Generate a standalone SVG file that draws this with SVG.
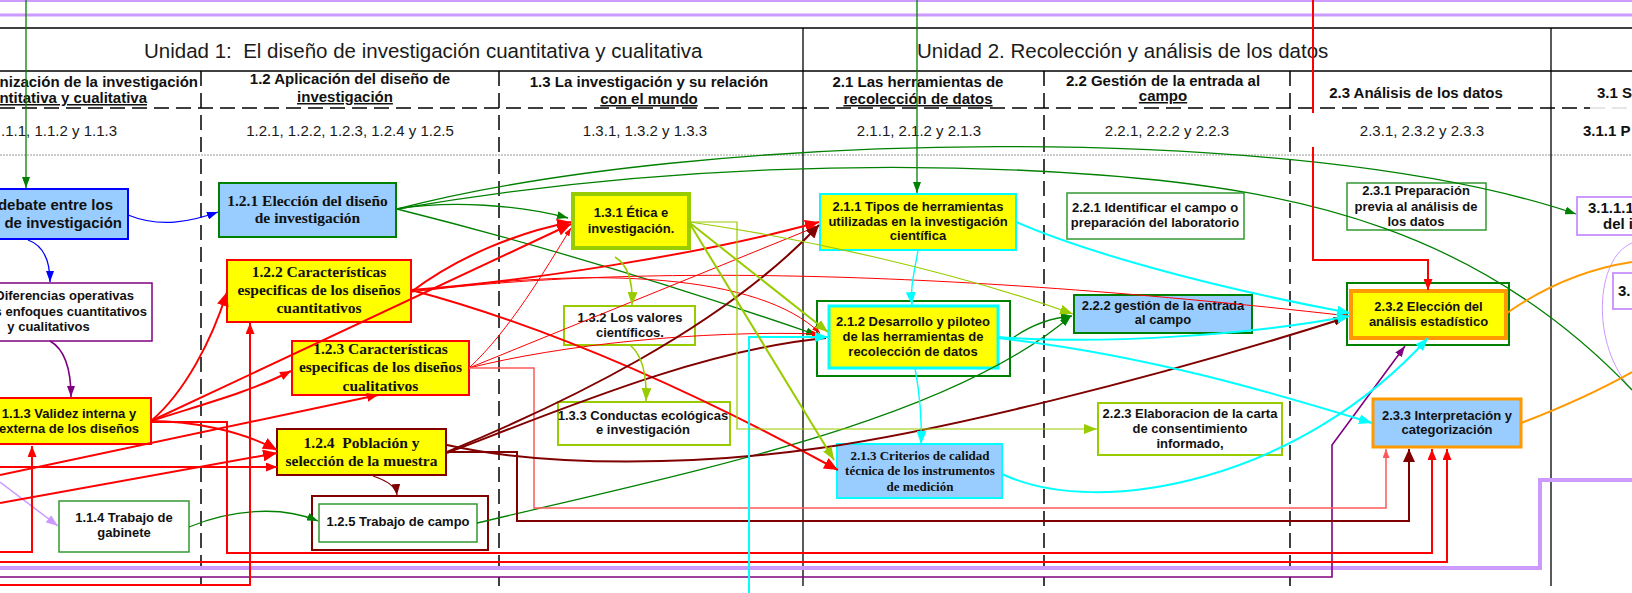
<svg xmlns="http://www.w3.org/2000/svg" width="1632" height="593" viewBox="0 0 1632 593">
<defs>
<style>
text{font-family:"Liberation Sans",Arial,Helvetica,sans-serif;fill:#111}
.unit{font-size:20.5px;fill:#1a1a1a;white-space:pre}
.sec{font-size:15px;font-weight:bold;text-anchor:middle}
.sub{font-size:15px;fill:#1a1a1a;text-anchor:middle}
.n{font-size:13px;font-weight:bold;text-anchor:middle}
.nb{font-size:15px;font-weight:bold}
.t{font-family:"Liberation Serif","Times New Roman",serif;font-weight:bold;font-size:15.5px;text-anchor:middle}
.t13{font-family:"Liberation Serif","Times New Roman",serif;font-weight:bold;font-size:13px;text-anchor:middle}
.end{text-anchor:end}
.start{text-anchor:start}
.ul{text-decoration:underline}
.grid{stroke:#000;stroke-width:1.3;fill:none}
.dash{stroke:#000;stroke-width:1.5;stroke-dasharray:15 7;fill:none}
#connectors path{fill:none}
.r{stroke:#f00;stroke-width:2}
.r1{stroke:#f00;stroke-width:1}
.pk{stroke:#ff5a5a;stroke-width:1.5}
.d{stroke:#800000;stroke-width:2}
.g{stroke:#008000;stroke-width:1.3}
.b{stroke:#00f;stroke-width:1.3}
.pu{stroke:#800080;stroke-width:1.6}
.lv{stroke:#cc99ff;stroke-width:1.5}
.lvw{stroke:#cc99ff;stroke-width:4}
.cy{stroke:#00ffff;stroke-width:2}
.cy1{stroke:#00ffff;stroke-width:1.4}
.yg{stroke:#99cc00;stroke-width:2}
.yg1{stroke:#99cc00;stroke-width:1.2}
.or{stroke:#ff9900;stroke-width:2}
</style>
<marker id="aR" viewBox="0 0 10 10" refX="10" refY="5" markerWidth="11" markerHeight="9" markerUnits="userSpaceOnUse" orient="auto" preserveAspectRatio="none"><path d="M0,0L10,5L0,10z" fill="#f00"/></marker>
<marker id="aRL" viewBox="0 0 10 10" refX="10" refY="5" markerWidth="14" markerHeight="12" markerUnits="userSpaceOnUse" orient="auto" preserveAspectRatio="none"><path d="M0,0L10,5L0,10z" fill="#f00"/></marker>
<marker id="aRS" viewBox="0 0 10 10" refX="10" refY="5" markerWidth="8" markerHeight="6" markerUnits="userSpaceOnUse" orient="auto" preserveAspectRatio="none"><path d="M0,0L10,5L0,10z" fill="#f00"/></marker>
<marker id="aP" viewBox="0 0 10 10" refX="10" refY="5" markerWidth="9" markerHeight="7" markerUnits="userSpaceOnUse" orient="auto" preserveAspectRatio="none"><path d="M0,0L10,5L0,10z" fill="#ff5a5a"/></marker>
<marker id="aD" viewBox="0 0 10 10" refX="10" refY="5" markerWidth="11" markerHeight="9" markerUnits="userSpaceOnUse" orient="auto" preserveAspectRatio="none"><path d="M0,0L10,5L0,10z" fill="#800000"/></marker>
<marker id="aDL" viewBox="0 0 10 10" refX="10" refY="5" markerWidth="13" markerHeight="12" markerUnits="userSpaceOnUse" orient="auto" preserveAspectRatio="none"><path d="M0,0L10,5L0,10z" fill="#800000"/></marker>
<marker id="aG" viewBox="0 0 10 10" refX="10" refY="5" markerWidth="11" markerHeight="8" markerUnits="userSpaceOnUse" orient="auto" preserveAspectRatio="none"><path d="M0,0L10,5L0,10z" fill="#008000"/></marker>
<marker id="aB" viewBox="0 0 10 10" refX="10" refY="5" markerWidth="11" markerHeight="8" markerUnits="userSpaceOnUse" orient="auto" preserveAspectRatio="none"><path d="M0,0L10,5L0,10z" fill="#00f"/></marker>
<marker id="aPu" viewBox="0 0 10 10" refX="10" refY="5" markerWidth="11" markerHeight="8" markerUnits="userSpaceOnUse" orient="auto" preserveAspectRatio="none"><path d="M0,0L10,5L0,10z" fill="#800080"/></marker>
<marker id="aL" viewBox="0 0 10 10" refX="10" refY="5" markerWidth="12" markerHeight="9" markerUnits="userSpaceOnUse" orient="auto" preserveAspectRatio="none"><path d="M0,0L10,5L0,10z" fill="#cc99ff"/></marker>
<marker id="aC" viewBox="0 0 10 10" refX="10" refY="5" markerWidth="13" markerHeight="10" markerUnits="userSpaceOnUse" orient="auto" preserveAspectRatio="none"><path d="M0,0L10,5L0,10z" fill="#00ffff"/></marker>
<marker id="aY" viewBox="0 0 10 10" refX="10" refY="5" markerWidth="13" markerHeight="10" markerUnits="userSpaceOnUse" orient="auto" preserveAspectRatio="none"><path d="M0,0L10,5L0,10z" fill="#99cc00"/></marker>
</defs>

<rect width="1632" height="593" fill="#fff"/>

<!-- table frame -->
<g id="table">
  <line class="grid" x1="0" y1="28" x2="1632" y2="28"/>
  <line class="grid" x1="0" y1="71" x2="1632" y2="71"/>
  <line class="dash" x1="0" y1="108" x2="1590" y2="108"/>
  <line x1="1590" y1="108" x2="1632" y2="108" stroke="#ccc" stroke-width="1" stroke-dasharray="15 7"/>
  <line x1="0" y1="155" x2="1632" y2="155" stroke="#999" stroke-width="1.2" stroke-dasharray="2 1"/>
  <line class="grid" x1="803" y1="28" x2="803" y2="586"/>
  <line class="grid" x1="1551" y1="28" x2="1551" y2="586"/>
  <line class="dash" x1="201" y1="71" x2="201" y2="586"/>
  <line class="dash" x1="499" y1="71" x2="499" y2="586"/>
  <line class="dash" x1="1044" y1="71" x2="1044" y2="586"/>
  <line class="dash" x1="1290" y1="71" x2="1290" y2="586"/>

  <text class="unit" x="144" y="58">Unidad 1:  El diseño de investigación cuantitativa y cualitativa</text>
  <text class="unit" x="917" y="58">Unidad 2. Recolección y análisis de los datos</text>

  <text class="sec end" x="198" y="87">nización de la investigación</text>
  <text class="sec end ul" x="147" y="103">ntitativa y cualitativa</text>
  <text class="sec" x="350" y="84">1.2 Aplicación del diseño de</text>
  <text class="sec ul" x="345" y="102">investigación</text>
  <text class="sec" x="649" y="87">1.3 La investigación y su relación</text>
  <text class="sec ul" x="649" y="104">con el mundo</text>
  <text class="sec" x="918" y="87">2.1 Las herramientas de</text>
  <text class="sec ul" x="918" y="104">recolección de datos</text>
  <text class="sec" x="1163" y="86">2.2 Gestión de la entrada al</text>
  <text class="sec ul" x="1163" y="101">campo</text>
  <text class="sec" x="1416" y="98">2.3 Análisis de los datos</text>
  <text class="sec start" x="1597" y="98">3.1 S</text>

  <text class="sub end" x="117" y="136">.1.1, 1.1.2 y 1.1.3</text>
  <text class="sub" x="350" y="136">1.2.1, 1.2.2, 1.2.3, 1.2.4 y 1.2.5</text>
  <text class="sub" x="645" y="136">1.3.1, 1.3.2 y 1.3.3</text>
  <text class="sub" x="919" y="136">2.1.1, 2.1.2 y 2.1.3</text>
  <text class="sub" x="1167" y="136">2.2.1, 2.2.2 y 2.2.3</text>
  <text class="sub" x="1422" y="136">2.3.1, 2.3.2 y 2.3.3</text>
  <text class="nb" x="1583" y="136">3.1.1 P</text>
</g>

<!-- Unidad 1 -->
<g id="n112">
  <rect x="-10" y="189" width="138" height="50" fill="#99ccff" stroke="#0000ff" stroke-width="2"/>
  <text class="nb end" x="113" y="210">debate entre los</text>
  <text class="nb end" x="122" y="228">de investigación</text>
</g>
<g id="n111">
  <rect x="-10" y="283" width="162" height="58" fill="#fff" stroke="#800080" stroke-width="1.5"/>
  <text class="n end" x="134" y="300">Diferencias operativas</text>
  <text class="n end" x="147" y="316">s enfoques cuantitativos</text>
  <text class="n" x="48.5" y="331">y cualitativos</text>
</g>
<g id="n113">
  <rect x="-10" y="398" width="161" height="46" fill="#ffff00" stroke="#ff0000" stroke-width="2"/>
  <text class="n" x="69" y="418">1.1.3 Validez interna y</text>
  <text class="n" x="69" y="433">externa de los diseños</text>
</g>
<g id="n114">
  <rect x="59" y="501" width="130" height="51" fill="#fff" stroke="#339933" stroke-width="1.5"/>
  <text class="n" x="124" y="522">1.1.4 Trabajo de</text>
  <text class="n" x="124" y="537">gabinete</text>
</g>
<g id="n121">
  <rect x="219" y="183" width="177" height="54" fill="#99ccff" stroke="#008000" stroke-width="2"/>
  <text class="t" x="307.5" y="206">1.2.1 Elección del diseño</text>
  <text class="t" x="307.5" y="223">de investigación</text>
</g>
<g id="n122">
  <rect x="227" y="260" width="184" height="62" fill="#ffff00" stroke="#ff0000" stroke-width="2"/>
  <text class="t" x="319" y="277">1.2.2 Características</text>
  <text class="t" x="319" y="295">especificas de los diseños</text>
  <text class="t" x="319" y="313">cuantitativos</text>
</g>
<g id="n123">
  <rect x="292" y="341" width="177" height="54" fill="#ffff00" stroke="#ff0000" stroke-width="2"/>
  <text class="t" x="380.5" y="354">1.2.3 Características</text>
  <text class="t" x="380.5" y="372">especificas de los diseños</text>
  <text class="t" x="380.5" y="391">cualitativos</text>
</g>
<g id="n124">
  <rect x="277" y="429" width="169" height="46" fill="#ffff00" stroke="#800000" stroke-width="2"/>
  <text class="t" x="361.5" y="448" style="white-space:pre">1.2.4  Población y</text>
  <text class="t" x="361.5" y="466">selección de la muestra</text>
</g>
<g id="n125">
  <rect x="312" y="496" width="176" height="54" fill="#fff" stroke="#800000" stroke-width="2"/>
  <rect x="319" y="504" width="158" height="38" fill="#fff" stroke="#339933" stroke-width="1.5"/>
  <text class="n" x="398" y="526">1.2.5 Trabajo de campo</text>
</g>
<g id="n131">
  <rect x="573" y="194" width="116" height="54" fill="#ffff00" stroke="#99cc00" stroke-width="4"/>
  <text class="n" x="631" y="217">1.3.1 Ética e</text>
  <text class="n" x="631" y="233">investigación.</text>
</g>
<g id="n132">
  <rect x="564" y="306" width="131" height="39" fill="#fff" stroke="#99cc00" stroke-width="2"/>
  <text class="n" x="630" y="322">1.3.2 Los valores</text>
  <text class="n" x="630" y="337">científicos.</text>
</g>
<g id="n133">
  <rect x="558" y="402" width="172" height="43" fill="#fff" stroke="#99cc00" stroke-width="2"/>
  <text class="n" x="643" y="420">1.3.3 Conductas ecológicas</text>
  <text class="n" x="643" y="434">e investigación</text>
</g>

<!-- Unidad 2 -->
<g id="n211">
  <rect x="820" y="194" width="196" height="56" fill="#ffff00" stroke="#00ffff" stroke-width="2"/>
  <text class="n" x="918" y="211">2.1.1 Tipos de herramientas</text>
  <text class="n" x="918" y="226">utilizadas en la investigación</text>
  <text class="n" x="918" y="240">científica</text>
</g>
<g id="n212">
  <rect x="817" y="301" width="193" height="75" fill="#fff" stroke="#008000" stroke-width="2"/>
  <rect x="829" y="306" width="169" height="62" fill="#ffff00" stroke="#00ffff" stroke-width="3"/>
  <text class="n" x="913" y="326">2.1.2 Desarrollo y piloteo</text>
  <text class="n" x="913" y="341">de las herramientas de</text>
  <text class="n" x="913" y="356">recolección de datos</text>
</g>
<g id="n213">
  <rect x="837" y="444" width="165" height="54" fill="#99ccff" stroke="#00ffff" stroke-width="2"/>
  <text class="t13" x="920" y="460">2.1.3 Criterios de calidad</text>
  <text class="t13" x="920" y="475">técnica de los instrumentos</text>
  <text class="t13" x="920" y="491">de medición</text>
</g>
<g id="n221">
  <rect x="1067" y="193" width="177" height="46" fill="#fff" stroke="#339933" stroke-width="1.5"/>
  <text class="n" x="1155" y="212">2.2.1 Identificar el campo o</text>
  <text class="n" x="1155" y="227">preparación del laboratorio</text>
</g>
<g id="n222">
  <rect x="1074" y="295" width="178" height="38" fill="#99ccff" stroke="#008000" stroke-width="2"/>
  <text class="n" x="1163" y="310">2.2.2 gestión de la entrada</text>
  <text class="n" x="1163" y="324">al campo</text>
</g>
<g id="n223">
  <rect x="1098" y="403" width="184" height="52" fill="#fff" stroke="#99cc00" stroke-width="2"/>
  <text class="n" x="1190" y="418">2.2.3 Elaboracion de la carta</text>
  <text class="n" x="1190" y="433">de consentimiento</text>
  <text class="n" x="1190" y="448">informado,</text>
</g>
<g id="n231">
  <rect x="1347" y="183" width="139" height="47" fill="#fff" stroke="#339933" stroke-width="1.5"/>
  <text class="n" x="1416" y="195">2.3.1 Preparación</text>
  <text class="n" x="1416" y="211">previa al análisis de</text>
  <text class="n" x="1416" y="226">los datos</text>
</g>
<g id="n232">
  <rect x="1347" y="283" width="162" height="62" fill="#fff" stroke="#008000" stroke-width="2"/>
  <rect x="1351" y="291" width="155" height="47" fill="#ffff00" stroke="#ff9900" stroke-width="4"/>
  <text class="n" x="1428.5" y="311">2.3.2 Elección del</text>
  <text class="n" x="1428.5" y="326">análisis estadístico</text>
</g>
<g id="n233">
  <rect x="1373" y="399" width="148" height="48" fill="#99ccff" stroke="#ff9900" stroke-width="3"/>
  <text class="n" x="1447" y="420">2.3.3 Interpretación y</text>
  <text class="n" x="1447" y="434">categorización</text>
</g>

<!-- Unidad 3 -->
<g id="n3111">
  <rect x="1577" y="197" width="70" height="38" fill="#fff" stroke="#cc99ff" stroke-width="2"/>
  <text class="nb" x="1588" y="213">3.1.1.1</text>
  <text class="nb" x="1603" y="229">del i</text>
</g>
<g id="n3112">
  <rect x="1613" y="273" width="40" height="36" fill="#fff" stroke="#cc99ff" stroke-width="2"/>
  <text class="nb" x="1618" y="296">3.</text>
</g>

<g id="connectors">
  <!-- lavender -->
  <path class="lv" d="M0,0.5H1632" style="stroke-width:3"/>
  <path class="lv" d="M0,15H1632" style="stroke-width:3"/>
  <path class="lv" d="M0,482L58,526" marker-end="url(#aL)"/>
  <path class="lvw" d="M0,568H1540V480H1632"/>
  <path class="lv" d="M1632,243C1595,258 1590,345 1632,390" style="stroke-width:1"/>

  <!-- blue / purple -->
  <path class="b" d="M128,215C160,228 190,222 218,212" marker-end="url(#aB)"/>
  <path class="b" d="M28,240C45,246 50,262 50,282" marker-end="url(#aB)"/>
  <path class="pu" d="M50,341C66,350 71,372 71,397" marker-end="url(#aPu)"/>
  <path class="pu" d="M0,577H1332V445L1405,346" marker-end="url(#aPu)"/>

  <!-- green -->
  <path class="g" d="M26,0V188" marker-end="url(#aG)"/>
  <path class="g" d="M917,0V193" marker-end="url(#aG)"/>
  <path class="g" d="M397,209C450,200 520,205 568,218" marker-end="url(#aG)"/>
  <path class="g" d="M397,209Q600,260 817,335" marker-end="url(#aG)"/>
  <path class="g" d="M397,209C700,130 1300,120 1576,214" marker-end="url(#aG)"/>
  <path class="g" d="M397,209C650,165 900,160 1100,175C1300,190 1480,230 1632,390"/>
  <path class="g" d="M189,527C230,510 280,505 318,521" marker-end="url(#aG)"/>
  <path class="g" d="M477,523C700,470 950,420 1071,316" marker-end="url(#aG)"/>
  <path class="g" d="M1010,340C1030,325 1050,318 1072,316" marker-end="url(#aG)"/>

  <!-- red -->
  <path class="r" d="M151,421C185,392 212,340 227,292" marker-end="url(#aRL)"/>
  <path class="r" d="M151,421C200,405 250,392 291,371" marker-end="url(#aR)"/>
  <path class="r" d="M151,421L571,224" marker-end="url(#aRL)"/>
  <path class="r" d="M151,421C190,421 240,430 277,450" marker-end="url(#aRL)"/>
  <path class="r" d="M151,422H227V553H1432V449" marker-end="url(#aR)"/>
  <path class="r" d="M0,467H277" marker-end="url(#aR)"/>
  <path class="r" d="M0,475L378,395" marker-end="url(#aR)"/>
  <path class="r" d="M0,503L277,453" marker-end="url(#aRL)"/>
  <path class="r" d="M0,552H32V446" marker-end="url(#aR)"/>
  <path class="r" d="M0,562H1447V449" marker-end="url(#aR)"/>
  <path class="r" d="M0,585H250V323" marker-end="url(#aR)"/>
  <path class="r" d="M411,292C460,255 520,232 571,222" marker-end="url(#aRL)"/>
  <path class="r" d="M411,290C520,282 700,255 819,222" marker-end="url(#aRL)"/>
  <path class="r1" d="M411,292C600,268 900,265 1349,316" marker-end="url(#aRS)"/>
  <path class="r" d="M411,290Q600,340 838,470" marker-end="url(#aRL)"/>
  <path class="r1" d="M411,292C600,265 760,275 820,333" marker-end="url(#aRS)"/>
  <path class="r1" d="M469,368C510,330 545,270 571,228" marker-end="url(#aRS)"/>
  <path class="r1" d="M469,368L818,226" marker-end="url(#aRS)"/>
  <path class="r1" d="M469,368C560,345 700,330 820,334" marker-end="url(#aRS)"/>
  <path class="pk" d="M469,368H534V508H1386V449" marker-end="url(#aP)"/>
  <path class="r" d="M1313,0V113"/>
  <path class="r" d="M1313,147V260H1428V290" marker-end="url(#aR)"/>

  <!-- dark red -->
  <path class="d" d="M447,452C560,405 720,330 819,225" marker-end="url(#aDL)"/>
  <path class="d" d="M447,453C560,410 700,350 826,338"/>
  <path class="d" d="M447,445C550,468 700,465 820,448S1150,380 1345,318" marker-end="url(#aD)"/>
  <path class="d" d="M373,476C385,480 396,486 397,495" style="stroke-width:1.3" marker-end="url(#aD)"/>
  <path class="d" d="M447,452H517V521H1409V449" marker-end="url(#aDL)"/>

  <!-- cyan -->
  <path class="cy" d="M1016,222C1080,250 1200,285 1350,313" marker-end="url(#aC)"/>
  <path class="cy1" d="M918,250C915,270 910,285 912,305" marker-end="url(#aC)"/>
  <path class="cy1" d="M915,368C920,395 922,420 921,444" marker-end="url(#aC)"/>
  <path class="cy" d="M998,337C1100,345 1250,335 1350,316" marker-end="url(#aC)"/>
  <path class="cy" d="M998,338C1150,355 1280,395 1372,423" marker-end="url(#aC)"/>
  <path class="cy" d="M1002,474C1100,520 1300,480 1428,338" marker-end="url(#aC)"/>
  <path class="cy" d="M749,593V337H828" marker-end="url(#aC)"/>

  <!-- yellow-green -->
  <path class="yg1" d="M615,257C628,265 633,282 632,305" style="stroke-width:1.6" marker-end="url(#aY)"/>
  <path class="yg1" d="M630,345C642,355 647,375 646,401" style="stroke-width:1.6" marker-end="url(#aY)"/>
  <path class="yg" d="M690,223L828,332" marker-end="url(#aY)"/>
  <path class="yg" d="M690,224L834,460" marker-end="url(#aY)"/>
  <path class="yg1" d="M690,222C800,238 950,270 1073,314" marker-end="url(#aY)"/>
  <path class="yg1" d="M690,222H737V429H1097" marker-end="url(#aY)"/>

  <!-- orange -->
  <path class="or" d="M1507,313C1540,290 1580,270 1632,262"/>
  <path class="or" d="M1521,423C1560,408 1600,390 1632,372"/>
</g>
</svg>
